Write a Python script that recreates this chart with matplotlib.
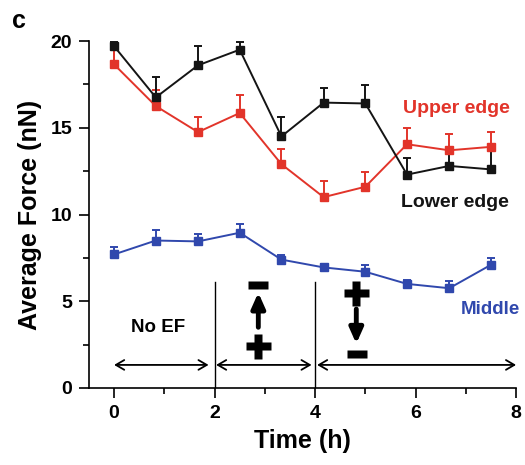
import numpy as np
import matplotlib
matplotlib.use("Agg")
import matplotlib.pyplot as plt
from matplotlib.ticker import MultipleLocator

plt.rcParams['font.family'] = ['Liberation Sans', 'DejaVu Sans']
plt.rcParams['font.weight'] = 'bold'

# ── dados ─────────────────────────────────────────────────────────────────────
tempo = [0, 0.83, 1.67, 2.5, 3.33, 4.17, 5.0, 5.83, 6.67, 7.5]

lower = [19.7, 16.75, 18.6, 19.5, 14.5, 16.45, 16.4, 12.3, 12.8, 12.6]
lower_err = [0.25, 1.2, 1.1, 0.45, 1.1, 0.85, 1.05, 0.95, 1.05, 1.35]

upper = [18.65, 16.25, 14.75, 15.85, 12.9, 11.0, 11.6, 14.05, 13.7, 13.9]
upper_err = [0.95, 0.95, 0.85, 1.05, 0.9, 0.95, 0.85, 0.95, 0.95, 0.85]

middle = [7.7, 8.5, 8.45, 8.95, 7.4, 6.95, 6.7, 6.0, 5.75, 7.1]
middle_err = [0.4, 0.6, 0.45, 0.5, 0.25, 0.2, 0.4, 0.2, 0.4, 0.4]

COR = {"lower": "#141414", "upper": "#e2342a", "middle": "#3048ad"}
# ── figura ────────────────────────────────────────────────────────────────────
fig = plt.figure(figsize=(5.25, 4.65), dpi=100)
ax = fig.add_axes([0.1695, 0.1656, 0.8135, 0.7462])


def _serie(y, err, cor):
    y = np.asarray(y)
    ax.errorbar(tempo, y, yerr=[np.zeros_like(y), err], color=cor, lw=1.4,
                marker='s', ms=5.5, capsize=3, capthick=1.4, elinewidth=1.4)


_serie(upper, upper_err, COR['upper'])
_serie(lower, lower_err, COR['lower'])
_serie(middle, middle_err, COR['middle'])

# períodos do campo elétrico
for xv in (2, 4):
    ax.plot([xv, xv], [0, 6.1], color='black', lw=1)
for x0, x1 in [(0, 1.88), (2.03, 3.93), (4.04, 8.0)]:
    ax.annotate('', xy=(x1, 1.33), xytext=(x0, 1.33),
                arrowprops=dict(arrowstyle='<->,head_length=0.6,head_width=0.35',
                                lw=1.3, color='black', shrinkA=0, shrinkB=0))
ax.text(0.87, 3.5, 'No EF', fontsize=13.5, fontweight='bold', ha='center', va='center')

# sinais + / - e setas
menos = [(-1, -0.43), (1, -0.43), (1, 0.43), (-1, 0.43), (-1, -0.43)]
ax.plot([2.87], [5.95], marker=menos, ms=15, color='black', mec='none')
ax.plot([2.87], [2.44], marker='P', ms=18, color='black', mec='none')
ax.annotate('', xy=(2.87, 5.5), xytext=(2.87, 3.5),
            arrowprops=dict(arrowstyle='-|>,head_length=0.9,head_width=0.4',
                            lw=3.5, color='black', shrinkA=0, shrinkB=0))
ax.plot([4.82], [5.5], marker='P', ms=18, color='black', mec='none')
ax.plot([4.83], [1.98], marker=menos, ms=15, color='black', mec='none')
ax.annotate('', xy=(4.82, 2.55), xytext=(4.82, 4.55),
            arrowprops=dict(arrowstyle='-|>,head_length=0.9,head_width=0.4',
                            lw=3.5, color='black', shrinkA=0, shrinkB=0))

# rótulos das séries
ax.text(6.82, 16.1, 'Upper edge', color=COR['upper'], fontsize=14,
        fontweight='bold', ha='center', va='center')
ax.text(6.78, 10.7, 'Lower edge', color=COR['lower'], fontsize=14,
        fontweight='bold', ha='center', va='center')
ax.text(8.08, 4.55, 'Middle', color=COR['middle'], fontsize=13.5,
        fontweight='bold', ha='right', va='center')

# eixos
ax.set_xlim(-0.5, 8)
ax.set_ylim(0, 20)
ax.xaxis.set_major_locator(MultipleLocator(2))
ax.xaxis.set_minor_locator(MultipleLocator(1))
ax.yaxis.set_major_locator(MultipleLocator(5))
ax.yaxis.set_minor_locator(MultipleLocator(2.5))
ax.tick_params(which='major', length=7, width=1.2, labelsize=14, pad=5)
ax.tick_params(which='minor', length=4, width=1.2)
for lab in ax.get_xticklabels() + ax.get_yticklabels():
    lab.set_fontweight('bold')
for s in ('top', 'right'):
    ax.spines[s].set_visible(False)
for s in ('left', 'bottom'):
    ax.spines[s].set_linewidth(1.2)
ax.spines['bottom'].set_bounds(-0.5, 8)
ax.set_xlabel('Time (h)', fontsize=18, fontweight='bold', labelpad=5)
ax.set_ylabel('Average Force (nN)', fontsize=18, fontweight='bold', labelpad=6)

fig.text(0.023, 0.955, 'c', fontsize=18, fontweight='bold', va='center')

fig.savefig('out.png', dpi=100)
